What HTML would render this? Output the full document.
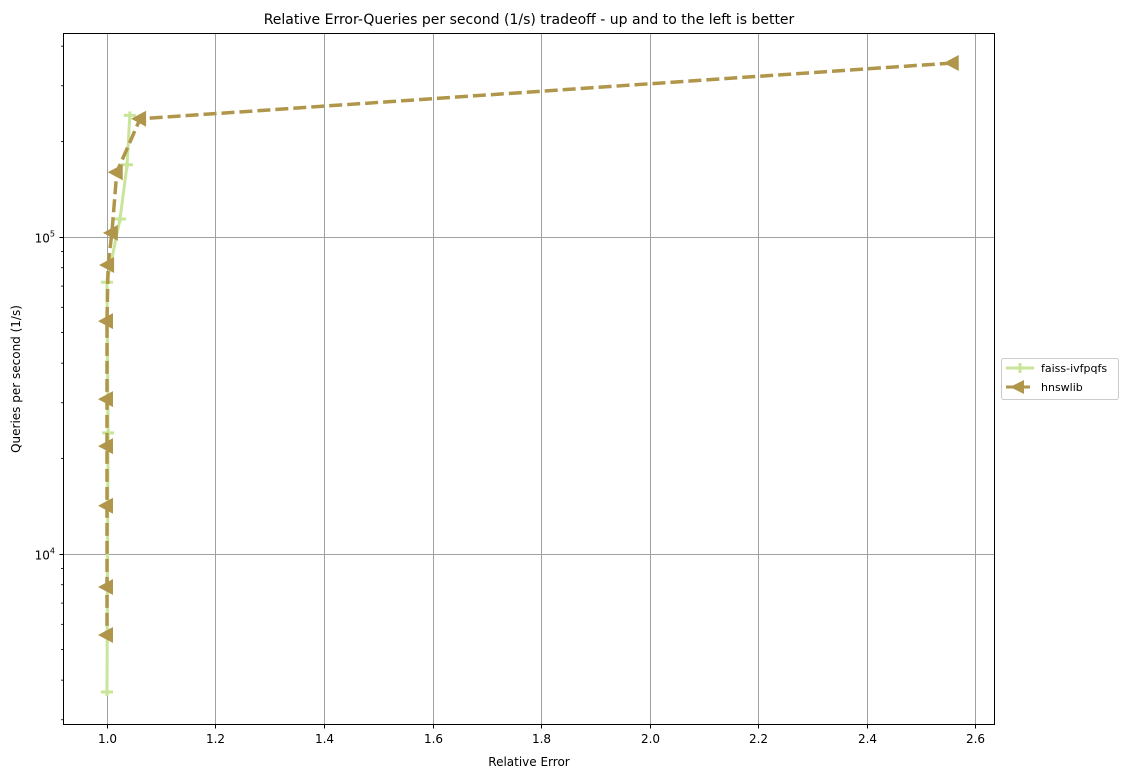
<!DOCTYPE html>
<html><head><meta charset="utf-8"><style>
body{margin:0;background:#fff;}
svg{display:block;font-family:"DejaVu Sans","Liberation Sans",sans-serif;}
</style></head><body>
<svg id="chart" width="1131" height="778" viewBox="0 0 1131 778" xmlns="http://www.w3.org/2000/svg">
<rect width="1131" height="778" fill="#fff"/>
<g id="grid"></g>
<g id="series"></g>
<rect x="63.5" y="33.5" width="931" height="691" fill="none" stroke="#000" stroke-width="1"/>
<g id="axes" font-size="12"></g>
<text x="529" y="24" text-anchor="middle" font-size="14">Relative Error-Queries per second (1/s) tradeoff - up and to the left is better</text>
<text x="529" y="766" text-anchor="middle" font-size="12">Relative Error</text>
<text transform="translate(20,379) rotate(-90)" text-anchor="middle" font-size="12">Queries per second (1/s)</text>
<g>
<rect x="1001.5" y="358.5" width="117" height="41" rx="2" fill="#fff" stroke="#ccc"/>
<g>
<line x1="1006" y1="368" x2="1034" y2="368" stroke="#c9e59a" stroke-width="3"/>
<line x1="1020" y1="363" x2="1020" y2="373" stroke="#c9e59a" stroke-width="3"/>
<text x="1041" y="372" font-size="11">faiss-ivfpqfs</text></g>
<g>
<line x1="1006" y1="387" x2="1034" y2="387" stroke="#b0964b" stroke-width="3" stroke-dasharray="10,4"/>
<polygon points="1010,387 1024,380 1024,394" fill="#b0964b"/>
<text x="1041" y="391" font-size="11">hnswlib</text></g>
</g>
</svg>
<script>
const xTicks=[1.0,1.2,1.4,1.6,1.8,2.0,2.2,2.4,2.6];
const faissX=[1.042,1.037,1.024,1.0,1.002,1.0];
const faissY=[242000,169000,114000,72000,24100,3670];
const hnswX=[2.559,1.061,1.018,1.009,1.002,1.0,1.0,1.0,1.0,1.0,1.0];
const hnswY=[354000,236000,160000,103000,81600,54300,30800,21900,14200,7870,5550];
const NS="http://www.w3.org/2000/svg";
function X(v){return 107+(v-1)*542.5;}
function Y(v){return 237-(Math.log10(v)-5)*317;}
function mk(tag,attrs,parent){const e=document.createElementNS(NS,tag);for(const k in attrs)e.setAttribute(k,attrs[k]);parent.appendChild(e);return e;}
const grid=document.getElementById('grid'),axes=document.getElementById('axes'),ser=document.getElementById('series');
xTicks.forEach(t=>{const x=Math.round(X(t))+0.5;
 const g=mk('line',{x1:x,x2:x,y1:34,y2:724,stroke:'#a0a0a0','stroke-width':1},grid);
 
 
 mk('line',{x1:x,x2:x,y1:725,y2:728.5,stroke:'#000'},axes);
 const l=mk('text',{x:x,y:743,'text-anchor':'middle'},axes);l.textContent=t.toFixed(1);
 
 
});
[1e4,1e5].forEach(t=>{const y=Math.round(Y(t))+0.5;
 const g=mk('line',{x1:64,x2:994,y1:y,y2:y,stroke:'#a0a0a0','stroke-width':1},grid);
 
 
 mk('line',{x1:59.5,x2:63,y1:y,y2:y,stroke:'#000'},axes);
 const l=mk('text',{x:55,y:y+5,'text-anchor':'end'},axes);
 l.innerHTML='10<tspan font-size="8" dy="-6">'+Math.log10(t)+'</tspan>';
 
 
});
for(let d=3;d<=5;d++)for(let m=2;m<=9;m++){const v=m*Math.pow(10,d);const y=Y(v);if(y<34||y>724)continue;
 mk('line',{x1:61,x2:63,y1:y,y2:y,stroke:'#000','stroke-width':0.8},axes);}
function pts(xs,ys){return xs.map((x,i)=>X(x)+','+Y(ys[i])).join(' ');}
const fl=mk('polyline',{points:pts(faissX,faissY),fill:'none',stroke:'#c9e59a','stroke-width':3},ser);


faissX.forEach((x,i)=>{const cx=X(x),cy=Y(faissY[i]);
 const p=mk('path',{d:`M${cx-6},${cy}H${cx+6}M${cx},${cy-4}V${cy+4}`,stroke:'#c9e59a','stroke-width':3},ser);
 
 
});
const hl=mk('polyline',{points:pts(hnswX,hnswY),fill:'none',stroke:'#b0964b','stroke-width':3.5,'stroke-dasharray':'13,5'},ser);


hnswX.forEach((x,i)=>{const cx=X(x),cy=Y(hnswY[i]);
 const p=mk('polygon',{points:`${cx-9},${cy} ${cx+6},${cy-8} ${cx+6},${cy+8}`,fill:'#b0964b'},ser);
 
 
});
</script>
</body></html>
